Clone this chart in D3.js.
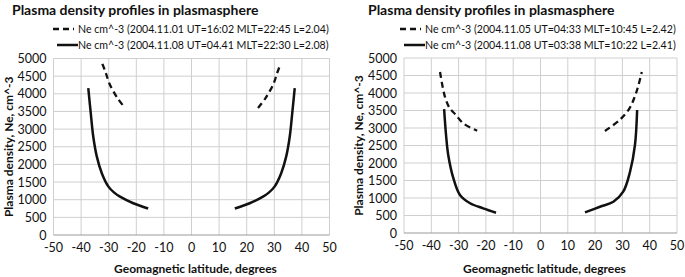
<!DOCTYPE html>
<html>
<head>
<meta charset="utf-8">
<script src="https://cdn.jsdelivr.net/npm/d3@7"></script>
<style>
body { margin: 0; background: #fff; }
text { font-family: Lato, "Open Sans", sans-serif; fill: #111; }
</style>
</head>
<body>
<script>
var width = 685, height = 277

var title = "Plasma density profiles in plasmasphere"
var yTitle = "Plasma density, Ne, cm^-3"
var xTitle = "Geomagnetic latitude, degrees"
var xTicks = [-50, -40, -30, -20, -10, 0, 10, 20, 30, 40, 50]
var yTicks = [0, 500, 1000, 1500, 2000, 2500, 3000, 3500, 4000, 4500, 5000]

// left panel (night side)
var leftLegend = [
  "Ne cm^-3 (2004.11.01 UT=16:02 MLT=22:45 L=2.04)",
  "Ne cm^-3 (2004.11.08 UT=04.41 MLT=22:30 L=2.08)"
]
var leftDashS = [[-32.3, 4850], [-31, 4580], [-29.8, 4300], [-27, 3900], [-24.1, 3600]]
var leftDashN = [[24.1, 3600], [27, 3900], [29.8, 4300], [31, 4580], [32.3, 4850]]
var leftSolidS = [[-37.4, 4160], [-36.5, 3450], [-35.6, 2790], [-34.3, 2220], [-32.5, 1750],
  [-30.1, 1370], [-28, 1200], [-25.9, 1086], [-21.1, 900], [-15.7, 750]]
var leftSolidN = [[15.7, 750], [21.1, 900], [25.9, 1086], [28, 1200], [30.1, 1370],
  [32.5, 1750], [34.3, 2220], [35.6, 2790], [36.5, 3450], [37.4, 4160]]

// right panel (day side)
var rightLegend = [
  "Ne cm^-3 (2004.11.05 UT=04:33 MLT=10:45 L=2.42)",
  "Ne cm^-3 (2004.11.08 UT=03:38 MLT=10:22 L=2.41)"
]
var rightDashS = [[-36.8, 4600], [-35, 3890], [-33.2, 3560], [-31.3, 3400], [-28.3, 3134], [-23.2, 2920]]
var rightDashN = [[23.6, 2914], [29, 3230], [32.6, 3560], [34.5, 3890], [35.8, 4200], [37.1, 4600]]
var rightSolidS = [[-35.3, 3540], [-34.6, 2800], [-33.8, 2230], [-31.9, 1560], [-29.5, 1085],
  [-25.8, 850], [-21, 705], [-16.3, 580]]
var rightSolidN = [[16.3, 590], [21.8, 751], [26.7, 894], [30.3, 1180], [32.8, 1751],
  [34.6, 2514], [35.4, 3514]]

var panels = [
  { plot: [53.5, 329.5], top: 58.5, bottom: 235, legend: leftLegend,
    dash: [leftDashS, leftDashN], solid: [leftSolidS, leftSolidN], tx: 12, lx: 53 },
  { plot: [404, 677], top: 58, bottom: 233, legend: rightLegend,
    dash: [rightDashS, rightDashN], solid: [rightSolidS, rightSolidN], tx: 368, lx: 400 }
]

var svg = d3.select("body").append("svg")
  .attr("width", width).attr("height", height)

panels.forEach(function (p) {
  var x = d3.scaleLinear().domain([-50, 50]).range(p.plot)
  var y = d3.scaleLinear().domain([0, 5000]).range([p.bottom, p.top])
  var g = svg.append("g")

  // grid
  g.selectAll(".vg").data(xTicks).join("line")
    .attr("x1", d => x(d)).attr("x2", d => x(d))
    .attr("y1", y(0)).attr("y2", y(5000))
    .attr("stroke", "#cfcfcf").attr("stroke-width", 1)
  g.selectAll(".hg").data(yTicks).join("line")
    .attr("x1", x(-50)).attr("x2", x(50))
    .attr("y1", d => y(d)).attr("y2", d => y(d))
    .attr("stroke", d => d === 0 ? "#9a9a9a" : "#cfcfcf").attr("stroke-width", 1)

  // tick labels
  g.selectAll(".xl").data(xTicks).join("text")
    .attr("x", d => x(d)).attr("y", p.bottom + 17)
    .attr("text-anchor", "middle").attr("font-size", 12.5)
    .text(d => d)
  g.selectAll(".yl").data(yTicks).join("text")
    .attr("x", x(-50) - 7).attr("y", d => y(d) + 4.5)
    .attr("text-anchor", "end").attr("font-size", 12.5)
    .text(d => d)

  // axis titles
  g.append("text")
    .attr("x", (p.plot[0] + p.plot[1]) / 2 + 4).attr("y", 273)
    .attr("text-anchor", "middle").attr("font-size", 12).attr("font-weight", "bold")
    .text(xTitle)
  g.append("text")
    .attr("transform", "translate(" + (p.plot[0] - 41) + "," + ((p.top + p.bottom) / 2) + ") rotate(-90)")
    .attr("text-anchor", "middle").attr("font-size", 12).attr("font-weight", "bold")
    .text(yTitle)

  // title
  g.append("text")
    .attr("x", p.tx).attr("y", 15)
    .attr("font-size", 14).attr("font-weight", "bold")
    .text(title)

  // curves
  var line = d3.line().x(d => x(d[0])).y(d => y(d[1])).curve(d3.curveCatmullRom)
  p.dash.forEach(function (s) {
    g.append("path").attr("d", line(s)).attr("fill", "none")
      .attr("stroke", "#111").attr("stroke-width", 2.3).attr("stroke-dasharray", "6,4")
  })
  p.solid.forEach(function (s) {
    g.append("path").attr("d", line(s)).attr("fill", "none")
      .attr("stroke", "#111").attr("stroke-width", 2.5)
  })

  // legend
  var ly = [29, 45]
  g.append("line").attr("x1", p.lx).attr("x2", p.lx + 21).attr("y1", ly[0]).attr("y2", ly[0])
    .attr("stroke", "#111").attr("stroke-width", 2.3).attr("stroke-dasharray", "6,4")
  g.append("line").attr("x1", p.lx + 4).attr("x2", p.lx + 25).attr("y1", ly[1]).attr("y2", ly[1])
    .attr("stroke", "#111").attr("stroke-width", 2.5)
  ly.forEach(function (yy, i) {
    g.append("text").attr("x", p.lx + 25).attr("y", yy + 4)
      .attr("font-size", 10.6)
      .text(p.legend[i])
  })
})
</script>
</body>
</html>
